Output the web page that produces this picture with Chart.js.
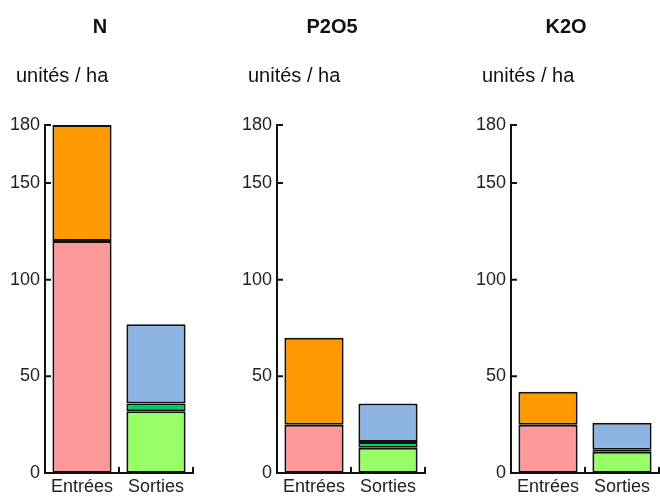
<!DOCTYPE html>
<html>
<head>
<meta charset="utf-8">
<script src="https://cdn.jsdelivr.net/npm/chart.js@4"></script>
<style>
    body { margin: 0; background: #fff; font-family: "Liberation Sans", Arial, sans-serif; }
    #wrap { position: relative; width: 660px; height: 496px; overflow: hidden; }
    .panel { position: absolute; top: 0; width: 200px; height: 496px; }
    .panel canvas { position: absolute; left: 0; top: 0; }
    .panel .title { position: absolute; left: 0; top: 14px; width: 200px; text-align: center; font-size: 20px; font-weight: bold; line-height: 24px; color: #111; }
    .panel .unit { position: absolute; left: 16px; top: 63px; font-size: 20px; line-height: 24px; color: #111; white-space: nowrap; }
</style>
</head>
<body>
<div id="wrap"></div>
<script>
const nutrients = ['N', 'P2O5', 'K2O'];
const categories = ['Entrées', 'Sorties'];
const unitLabel = 'unités / ha';
const yTicks = [0, 50, 100, 150, 180];

// entrées (stacked on "Entrées")
const entreeA = [120, 25, 25];   // pink
const entreeB = [60, 45, 17];    // orange
// sorties (stacked on "Sorties")
const sortieA = [32, 13, 11];    // light green
const sortieB = [4, 3, 1];       // dark green
const sortieC = [41, 20, 14];    // blue

const panelLeft = [0, 232, 466];

const innerTicks = {
    id: 'innerTicks',
    afterDatasetsDraw(chart) {
        const { ctx, scales: { x, y } } = chart;
        ctx.save();
        ctx.strokeStyle = '#111';
        ctx.lineWidth = 2;
        ctx.beginPath();
        y.ticks.forEach(t => {
            const py = y.getPixelForValue(t.value);
            ctx.moveTo(x.left, py);
            ctx.lineTo(x.left + 6, py);
        });
        for (let i = 0; i < categories.length; i++) {
            const px = x.getPixelForValue(i + 0.5);
            ctx.moveTo(px, y.bottom);
            ctx.lineTo(px, y.bottom - 6);
        }
        ctx.stroke();
        ctx.restore();
    }
};

function series(label, values, k, slot, color) {
    const data = categories.map((c, i) => i === slot ? values[k] : null);
    return {
        label, data,
        backgroundColor: color,
        borderColor: '#111',
        borderWidth: 2,
        borderSkipped: false,
        barPercentage: 0.8,
        categoryPercentage: 1
    };
}

const wrap = document.getElementById('wrap');

nutrients.forEach((name, k) => {
    const panel = document.createElement('div');
    panel.className = 'panel';
    panel.style.left = panelLeft[k] + 'px';
    panel.innerHTML = `<canvas width="200" height="496"></canvas>
        <div class="title">${name}</div>
        <div class="unit">${unitLabel}</div>`;
    wrap.appendChild(panel);

    new Chart(panel.querySelector('canvas'), {
        type: 'bar',
        data: {
            labels: categories,
            datasets: [
                series('Entrée 1', entreeA, k, 0, '#ff9999'),
                series('Entrée 2', entreeB, k, 0, '#ff9900'),
                series('Sortie 1', sortieA, k, 1, '#99ff66'),
                series('Sortie 2', sortieB, k, 1, '#00cc66'),
                series('Sortie 3', sortieC, k, 1, '#8db4e2')
            ]
        },
        options: {
            responsive: false,
            animation: false,
            layout: { padding: { top: 125, left: 5, right: 7, bottom: 0 } },
            plugins: { legend: { display: false }, tooltip: { enabled: false } },
            scales: {
                x: {
                    stacked: true,
                    grid: { display: false, drawTicks: false },
                    border: { color: '#111', width: 2 },
                    ticks: { color: '#222', padding: 3, font: { family: 'Liberation Sans', size: 18 } },
                    afterFit: s => { s.height = 23; }
                },
                y: {
                    stacked: true,
                    min: 0,
                    max: 180,
                    grid: { display: false, drawTicks: false },
                    border: { color: '#111', width: 2 },
                    ticks: { color: '#222', padding: 5, font: { family: 'Liberation Sans', size: 18 } },
                    afterBuildTicks: s => { s.ticks = yTicks.map(v => ({ value: v })); },
                    afterFit: s => { s.width = 40; }
                }
            }
        },
        plugins: [innerTicks]
    });
});
</script>
</body>
</html>
